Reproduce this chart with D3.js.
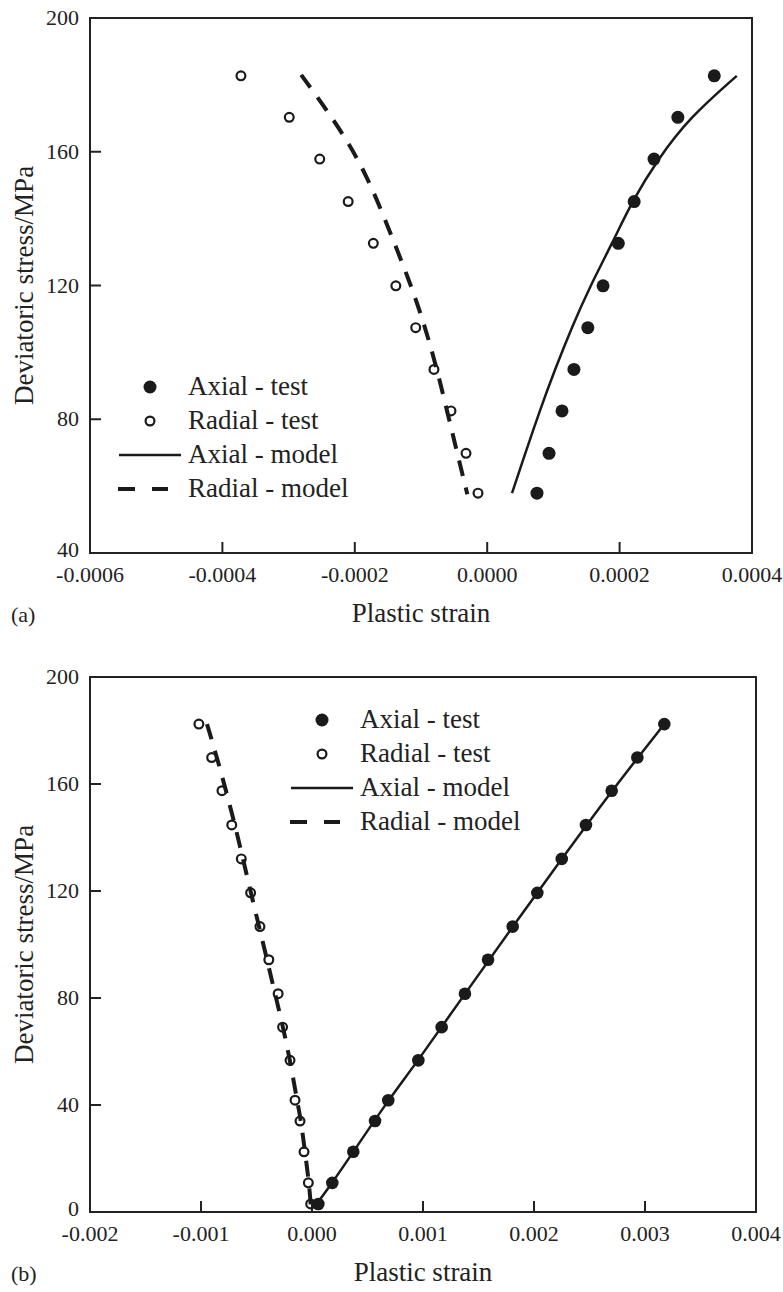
<!DOCTYPE html>
<html>
<head>
<meta charset="utf-8">
<script src="https://cdn.jsdelivr.net/npm/d3@7"></script>
<style>
  html, body { margin: 0; padding: 0; background: #fff; }
  svg text { font-family: "Liberation Serif", "Times New Roman", Times, "DejaVu Serif", serif; }
</style>
</head>
<body>
<div id="chart"></div>
<script>
// ---- panel (a) data ----
const stressA = [182.7, 170.3, 157.8, 145.1, 132.6, 119.9, 107.4, 94.9, 82.5, 69.8, 57.9];
const axialTestA = [0.000343, 0.000288, 0.000252, 0.000222, 0.000198, 0.000175, 0.000152, 0.000131, 0.000113, 0.0000934, 0.0000752];
const radialTestA = [-0.000372, -0.000299, -0.000253, -0.000210, -0.000172, -0.000138, -0.000108, -0.0000804, -0.0000547, -0.0000320, -0.0000139];

const axialModelStressA = [182.7, 170.1, 157.5, 145.6, 132.7, 119.6, 107.6, 94.7, 82.8, 67.8, 57.9];
const axialModelA = [0.000377, 0.000305, 0.000257, 0.000220, 0.000189, 0.000155, 0.000128, 0.000102, 0.0000798, 0.0000541, 0.0000375];
const radialModelStressA = [183.0, 168.6, 153.9, 133.6, 118.1, 100.7, 82.8, 64.8, 57.6];
const radialModelA = [-0.000281, -0.000228, -0.000183, -0.000142, -0.000111, -0.000083, -0.000061, -0.000039, -0.000030];

const xTicksA = [-0.0006, -0.0004, -0.0002, 0, 0.0002, 0.0004];
const yTicksA = [40, 80, 120, 160, 200];

// ---- panel (b) data ----
const stressB = [182.4, 169.9, 157.5, 144.7, 132.0, 119.3, 106.7, 94.3, 81.6, 69.1, 56.7, 41.8, 34.0, 22.5, 10.9, 3.0];
const axialTestB = [0.003174, 0.002931, 0.002700, 0.002468, 0.002250, 0.002030, 0.001808, 0.001586, 0.001378, 0.001168, 0.000958, 0.000687, 0.000568, 0.000372, 0.000183, 0.000057];
const radialTestB = [-0.001019, -0.000904, -0.000811, -0.000723, -0.000637, -0.000553, -0.000469, -0.000389, -0.000305, -0.000265, -0.000198, -0.000153, -0.000108, -0.000072, -0.000033, -0.000012];

const axialModelStressB = [182.4, 157.5, 132.0, 106.7, 81.6, 56.7, 41.8, 22.5, 10.9, 1.4];
const axialModelB = [0.003174, 0.002700, 0.002250, 0.001808, 0.001378, 0.000958, 0.000687, 0.000372, 0.000183, 0.000012];
const radialModelStressB = [182.4, 169.9, 157.5, 144.7, 132.0, 119.3, 106.7, 94.3, 81.6, 69.1, 56.7, 41.8, 34.0, 22.5, 10.9, 1.5];
const radialModelB = [-0.000946, -0.000856, -0.000775, -0.000694, -0.000622, -0.000550, -0.000477, -0.000405, -0.000333, -0.000261, -0.000198, -0.000135, -0.000099, -0.000063, -0.000027, -0.000009];

const xTicksB = [-0.002, -0.001, 0, 0.001, 0.002, 0.003, 0.004];
const yTicksB = [0, 40, 80, 120, 160, 200];

const legendLabels = ["Axial - test", "Radial - test", "Axial - model", "Radial - model"];

/* =========================
   SVG
========================= */
const W = 783, H = 1292;
const FONT = "'Liberation Serif', 'Times New Roman', Times, 'DejaVu Serif', serif";
const svg = d3.select("#chart").append("svg")
  .attr("width", W)
  .attr("height", H)
  .attr("font-family", FONT);

const zip = (xs, ys) => xs.map((x, i) => [x, ys[i]]);

function drawPanel(opt) {
  const x = d3.scaleLinear().domain(opt.xDomain).range([opt.left, opt.right]);
  const y = d3.scaleLinear().domain(opt.yDomain).range([opt.bottom, opt.top]);
  const g = svg.append("g");

  // inner ticks
  const tickLen = 11;
  g.selectAll(".xt").data(opt.xTicks.slice(1, -1)).enter().append("line")
    .attr("x1", d => x(d)).attr("x2", d => x(d))
    .attr("y1", opt.bottom).attr("y2", opt.bottom - tickLen)
    .attr("stroke", "#222").attr("stroke-width", 2);
  g.selectAll(".yt").data(opt.yTicks.slice(1, -1)).enter().append("line")
    .attr("x1", opt.left).attr("x2", opt.left + tickLen)
    .attr("y1", d => y(d)).attr("y2", d => y(d))
    .attr("stroke", "#222").attr("stroke-width", 2);

  // frame
  g.append("rect")
    .attr("x", opt.left).attr("y", opt.top)
    .attr("width", opt.right - opt.left).attr("height", opt.bottom - opt.top)
    .attr("fill", "none").attr("stroke", "#222").attr("stroke-width", 2);

  // tick labels
  g.selectAll(".xl").data(opt.xTicks).enter().append("text")
    .attr("x", d => x(d)).attr("y", opt.bottom + 29)
    .attr("text-anchor", "middle").attr("font-size", 22).attr("fill", "#222")
    .text(d => d.toFixed(opt.digits));
  g.selectAll(".yl").data(opt.yTicks).enter().append("text")
    .attr("x", opt.left - 11).attr("y", (d, i) => y(d) + (i === 0 ? 4 : 7))
    .attr("text-anchor", "end").attr("font-size", 22).attr("fill", "#222")
    .text(d => d);

  // axis titles
  g.append("text")
    .attr("x", (opt.left + opt.right) / 2).attr("y", opt.bottom + 69)
    .attr("text-anchor", "middle").attr("font-size", 27).attr("fill", "#222")
    .text("Plastic strain");
  g.append("text")
    .attr("transform", `translate(33,${(opt.top + opt.bottom) / 2}) rotate(-90)`)
    .attr("text-anchor", "middle").attr("font-size", 27).attr("fill", "#222")
    .text("Deviatoric stress/MPa");
  g.append("text")
    .attr("x", 11).attr("y", opt.bottom + 69)
    .attr("font-size", 22).attr("fill", "#222")
    .text(opt.tag);

  // model curves
  const line = d3.line()
    .x(d => x(d[0])).y(d => y(d[1]))
    .curve(d3.curveBasis);

  g.append("path")
    .attr("d", line(zip(opt.axialModel, opt.axialModelStress)))
    .attr("fill", "none").attr("stroke", "#1a1a1a").attr("stroke-width", 2.5);
  g.append("path")
    .attr("d", line(zip(opt.radialModel, opt.radialModelStress)))
    .attr("fill", "none").attr("stroke", "#1a1a1a").attr("stroke-width", 4)
    .attr("stroke-dasharray", "16,12");

  // test points
  g.selectAll(".ax").data(zip(opt.axialTest, opt.stress)).enter().append("circle")
    .attr("cx", d => x(d[0])).attr("cy", d => y(d[1]))
    .attr("r", opt.dotR).attr("fill", "#1a1a1a");
  g.selectAll(".rd").data(zip(opt.radialTest, opt.stress)).enter().append("circle")
    .attr("cx", d => x(d[0])).attr("cy", d => y(d[1]))
    .attr("r", 4.4).attr("fill", "none").attr("stroke", "#1a1a1a").attr("stroke-width", 2.2);

  // legend
  const lx = opt.legendX, ly = opt.legendY, step = 34;
  const lg = g.append("g");
  lg.selectAll("text").data(legendLabels).enter().append("text")
    .attr("x", lx).attr("y", (d, i) => ly + i * step)
    .attr("font-size", 27).attr("fill", "#222")
    .text(d => d);
  lg.append("circle").attr("cx", lx - 38).attr("cy", ly - 8).attr("r", 6.5).attr("fill", "#1a1a1a");
  lg.append("circle").attr("cx", lx - 38).attr("cy", ly + step - 8).attr("r", 4.4)
    .attr("fill", "none").attr("stroke", "#1a1a1a").attr("stroke-width", 2.2);
  lg.append("line")
    .attr("x1", lx - 69).attr("x2", lx - 7)
    .attr("y1", ly + 2 * step - 8).attr("y2", ly + 2 * step - 8)
    .attr("stroke", "#1a1a1a").attr("stroke-width", 2.5);
  lg.append("line")
    .attr("x1", lx - 70).attr("x2", lx - 20)
    .attr("y1", ly + 3 * step - 8).attr("y2", ly + 3 * step - 8)
    .attr("stroke", "#1a1a1a").attr("stroke-width", 4)
    .attr("stroke-dasharray", "17,17");
}

drawPanel({
  left: 90, right: 752, top: 18, bottom: 553,
  xDomain: [-0.0006, 0.0004], yDomain: [40, 200],
  xTicks: xTicksA, yTicks: yTicksA, digits: 4, tag: "(a)",
  stress: stressA, axialTest: axialTestA, radialTest: radialTestA,
  axialModel: axialModelA, axialModelStress: axialModelStressA,
  radialModel: radialModelA, radialModelStress: radialModelStressA,
  dotR: 6.5, legendX: 188, legendY: 395
});

drawPanel({
  left: 90, right: 756, top: 677, bottom: 1212,
  xDomain: [-0.002, 0.004], yDomain: [0, 200],
  xTicks: xTicksB, yTicks: yTicksB, digits: 3, tag: "(b)",
  stress: stressB, axialTest: axialTestB, radialTest: radialTestB,
  axialModel: axialModelB, axialModelStress: axialModelStressB,
  radialModel: radialModelB, radialModelStress: radialModelStressB,
  dotR: 6.3, legendX: 360, legendY: 728
});
</script>
</body>
</html>
